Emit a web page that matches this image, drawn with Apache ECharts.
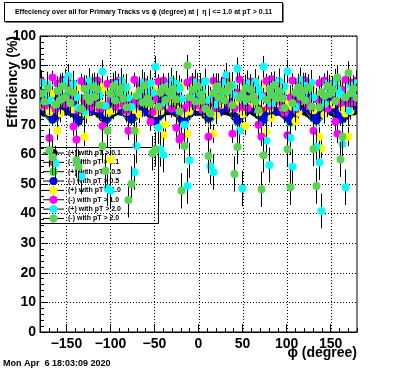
<!DOCTYPE html>
<html><head><meta charset="utf-8">
<script src="https://cdn.jsdelivr.net/npm/echarts@6/dist/echarts.min.js"></script>
<style>html,body{margin:0;padding:0;background:#fff;}#c{width:396px;height:372px;}</style>
</head><body><div id="c"></div>
<script>
// ---------- data ----------
const chartTitle = "Effeciency over all for Primary Tracks vs \u03d5 (degree) at |  \u03b7 | <= 1.0 at pT > 0.11";
const xTitle = "\u03d5 (degree)";
const yTitle = "Efficiency (%)";
const dateText = "Mon Apr  6 18:03:09 2020";
const phiMin = -180, phiMax = 180, binWidth = 3;
const xMajorTicks = [-150, -100, -50, 0, 50, 100, 150];
const seriesNames = ["(+) with pT > 0.1", "(-) with pT > 0.1", "(+) with pT > 0.5", "(-) with pT > 0.5",
                     "(+) with pT > 1.0", "(-) with pT > 1.0", "(+) with pT > 2.0", "(-) with pT > 2.0"];
const seriesColors = ["#000000", "#ff0000", "#00ff00", "#0000ff", "#ffff00", "#ff00ff", "#00ffff", "#59d454"];
// tracks per bin used for binomial error bars
const tracksPerBin = [4000, 4000, 700, 700, 220, 220, 70, 70];

const effPos01 = [
74.6,74.1,73.8,73.0,71.9,72.4,73.5,74.3,74.8,74.5,
74.9,74.4,73.9,72.8,71.6,72.9,73.8,74.6,74.2,75.0,
74.7,74.3,73.6,72.5,71.8,72.2,73.4,74.1,74.9,74.6,
74.4,74.8,73.7,72.6,72.0,72.7,73.9,74.5,75.1,74.7,
74.3,73.5,72.4,71.9,72.6,73.3,74.2,74.9,74.6,75.0,
74.5,74.0,73.1,72.2,71.7,72.8,73.9,74.7,75.0,74.4,
74.8,74.2,73.3,72.1,72.5,73.6,74.4,75.1,74.7,74.9,
74.6,74.3,73.8,72.9,71.8,72.3,73.5,74.2,74.8,75.0,
74.5,74.1,73.2,72.4,71.9,72.6,73.7,74.6,74.9,74.3,
74.7,74.0,73.4,72.3,71.6,72.9,74.0,74.8,75.2,74.6,
74.4,73.8,73.0,72.2,71.8,72.7,73.8,74.5,75.0,74.7,
74.2,73.6,72.8,72.0,71.9,73.0,74.1,74.8,74.5,74.9];
const effNeg01 = [
76.8,76.4,75.9,75.1,74.3,74.7,75.8,76.6,77.0,76.7,
77.1,76.5,76.0,74.9,74.1,75.2,76.2,76.8,76.4,77.2,
76.9,76.6,75.7,74.8,74.2,74.6,75.8,76.5,77.1,76.8,
76.6,77.0,75.9,75.0,74.4,74.9,76.1,76.7,77.3,76.9,
76.5,75.8,74.8,74.3,74.9,75.7,76.4,77.1,76.8,77.2,
76.7,76.2,75.4,74.5,74.1,75.1,76.2,76.9,77.2,76.6,
77.0,76.4,75.5,74.4,74.8,75.9,76.6,77.3,76.9,77.1,
76.8,76.5,76.0,75.2,74.2,74.6,75.8,76.5,77.0,77.2,
76.7,76.3,75.5,74.7,74.3,74.9,76.0,76.8,77.1,76.5,
76.9,76.2,75.6,74.6,74.0,75.2,76.3,77.0,77.4,76.8,
76.6,76.0,75.3,74.5,74.2,75.0,76.1,76.7,77.2,76.9,
76.4,75.8,75.1,74.3,74.3,75.3,76.3,77.0,76.7,77.1];
const effPos05 = [
76.8,75.4,74.9,73.2,71.5,72.6,74.8,76.5,77.2,76.1,
77.4,76.2,75.0,72.8,70.9,73.4,75.6,76.9,75.8,77.6,
76.4,77.1,74.6,72.9,71.2,71.8,74.5,76.3,77.5,76.0,
75.7,77.0,75.2,73.1,71.6,72.9,75.1,76.7,77.8,76.4,
76.9,74.8,72.6,70.8,72.4,74.6,76.2,77.3,76.5,77.9,
76.1,75.5,73.7,71.4,70.6,73.0,75.4,76.8,77.6,75.9,
77.2,76.0,74.1,71.9,72.3,74.9,76.5,77.4,76.2,77.0,
76.6,75.8,75.0,73.3,71.0,72.5,74.7,76.4,77.5,76.9,
75.9,76.7,74.4,72.2,71.3,72.7,75.3,76.9,77.1,76.0,
77.3,75.6,74.3,72.0,70.7,73.5,75.8,77.0,77.9,76.3,
76.5,75.2,73.9,72.1,71.1,72.8,75.0,76.6,77.4,76.8,
75.8,74.9,73.0,71.5,71.7,74.0,75.9,77.2,76.4,77.1];
const effNeg05 = [
78.9,75.1,77.6,73.6,71.9,72.8,79.2,74.6,78.5,76.0,
79.6,74.3,77.0,73.0,71.2,73.7,78.8,75.2,79.9,74.7,
77.9,79.4,74.5,73.2,71.6,72.3,77.6,74.9,80.1,75.5,
78.1,74.6,79.3,73.5,71.9,73.3,78.4,75.0,79.7,74.4,
79.0,75.2,73.0,71.1,72.9,78.1,74.8,80.0,75.9,78.7,
74.9,79.5,74.1,71.8,71.0,73.5,78.9,74.3,79.8,76.2,
78.6,74.7,74.6,72.3,72.8,77.9,75.1,79.6,74.5,78.8,
75.6,79.2,75.5,73.7,71.4,72.9,78.3,74.7,80.2,75.8,
79.1,74.8,74.9,72.6,71.7,73.1,79.0,75.4,78.2,74.6,
78.5,75.0,74.8,72.4,71.1,73.9,78.6,74.5,80.3,76.1,
75.3,79.4,74.3,72.5,71.5,73.2,78.0,75.6,79.5,74.9,
78.7,75.4,73.5,71.9,72.1,77.8,74.4,79.3,75.2,78.4];
const effPos10 = [
84.1,76.1,82.9,74.3,80.5,76.9,68.0,73.8,83.6,84.3,
77.4,83.2,75.2,82.6,79.0,74.2,66.0,73.5,84.8,78.9,
84.3,75.6,83.2,77.0,81.9,73.9,58.3,74.8,83.1,76.5,
82.7,84.6,74.4,80.8,77.1,75.0,67.7,73.6,83.9,78.2,
84.0,76.3,83.4,74.0,81.2,74.6,66.5,70.0,76.4,84.7,
78.6,84.4,75.1,83.0,73.7,67.0,74.5,82.3,83.2,76.0,
84.4,77.8,84.7,74.6,80.1,67.0,73.2,83.3,76.8,83.5,
79.2,84.6,75.5,82.1,77.3,75.1,73.6,69.6,76.7,83.9,
77.0,84.8,74.2,82.4,79.6,67.6,75.4,72.3,84.5,77.3,
84.1,75.8,82.9,77.7,80.7,76.0,71.2,74.1,84.6,78.0,
83.2,76.4,82.8,74.9,79.8,66.0,62.0,73.4,84.0,84.3,
76.9,83.8,78.1,83.5,75.3,73.8,66.0,74.7,83.2,84.0];
const effNeg10 = [
84.6,76.4,78.3,65.5,86.0,75.3,83.9,79.1,85.2,77.0,
84.1,79.5,69.4,65.0,74.8,84.8,78.2,83.6,75.9,84.7,
77.6,85.0,75.4,69.6,76.5,83.9,78.7,84.2,76.1,84.9,
84.5,76.8,74.7,68.0,77.8,85.2,76.9,83.7,79.3,84.4,
80.2,71.0,74.3,78.9,84.6,76.2,85.0,77.9,83.8,75.4,
79.4,69.0,65.0,66.0,75.6,84.3,77.4,85.1,76.6,84.0,
84.0,75.1,76.8,66.0,78.2,84.9,75.8,83.5,78.6,85.1,
84.7,77.2,67.0,75.6,80.9,85.3,76.0,83.8,75.7,84.6,
81.3,78.4,70.0,66.0,79.7,84.8,76.3,85.4,77.5,83.6,
80.6,76.1,74.0,66.5,79.2,85.0,75.2,84.4,78.4,85.2,
84.8,76.6,75.9,68.0,78.7,84.1,77.2,85.0,75.5,83.9,
80.3,71.0,67.0,77.4,81.8,85.2,76.7,84.3,77.8,85.0];
const effPos20 = [
84.1,80.3,83.5,78.2,59.0,57.0,77.6,82.8,79.9,84.6,
86.5,81.2,83.9,79.4,75.8,52.5,74.3,82.1,84.8,80.7,
83.2,81.6,79.9,88.0,76.4,48.5,47.7,78.9,83.7,81.0,
84.9,80.5,82.6,79.1,76.0,54.0,62.8,80.2,84.3,82.0,
81.4,84.0,80.8,89.6,69.0,61.7,59.8,77.5,83.1,85.0,
80.6,83.8,82.2,78.7,70.0,49.3,58.0,79.8,84.4,81.5,
83.0,81.1,84.7,78.4,56.0,54.0,76.9,82.9,80.4,84.2,
86.8,81.9,83.4,80.0,89.0,68.0,48.5,78.1,84.0,82.5,
80.9,84.5,82.0,79.6,89.6,64.6,56.4,77.2,83.6,81.3,
84.8,80.7,82.9,88.0,65.5,55.8,75.9,82.4,85.1,80.2,
83.1,81.8,84.2,79.3,62.5,57.3,40.9,77.0,83.9,82.3,
81.0,84.6,82.1,80.4,63.5,48.9,74.8,83.2,80.8,84.0];
const effNeg20 = [
80.6,77.9,82.3,61.5,59.0,76.8,81.4,78.5,83.0,79.2,
81.7,77.4,80.9,58.0,55.8,75.3,82.2,79.6,78.0,82.8,
79.4,81.9,76.7,62.8,54.5,68.0,80.5,83.1,78.2,80.8,
82.4,78.8,75.9,44.6,50.0,68.0,79.7,81.6,77.6,83.3,
79.0,77.2,60.4,61.7,76.1,80.9,82.6,78.4,81.2,79.8,
82.1,78.6,74.5,47.7,62.8,90.0,79.3,81.8,77.9,83.0,
80.2,78.1,75.4,59.5,73.8,80.7,82.9,79.1,81.5,78.3,
81.1,83.2,76.6,53.4,62.5,79.0,80.3,82.4,78.7,81.9,
79.6,77.8,74.9,48.2,59.7,78.5,82.0,80.1,83.4,79.0,
81.3,78.9,75.7,61.7,48.9,77.4,80.8,82.7,79.5,81.6,
78.3,82.5,76.2,61.8,49.3,75.9,81.0,79.7,83.1,80.4,
81.8,78.0,86.0,58.3,66.0,79.2,87.5,80.6,82.2,79.1];
const allEff = [effPos01, effNeg01, effPos05, effNeg05, effPos10, effNeg10, effPos20, effNeg20];

// ---------- chart ----------
const FONT = "'Liberation Sans', Arial, Helvetica, sans-serif";
const chart = echarts.init(document.getElementById('c'), null, {renderer: 'canvas'});

function binCenter(i) { return phiMin + binWidth * (i + 0.5); }
function binomErr(v, n) { const p = v / 100; return 100 * Math.sqrt(p * (1 - p) / n); }

const series = [];
// vertical dotted grid lines at major x ticks
series.push({
  type: 'custom', z: 1, silent: true, clip: true, animation: false,
  data: xMajorTicks.map(v => [v, 0]),
  renderItem: function (params, api) {
    const a = api.coord([api.value(0), 0]);
    const b = api.coord([api.value(0), 100]);
    const x = Math.round(a[0]) + 0.5;
    return {type: 'line', shape: {x1: x, y1: a[1], x2: x, y2: b[1]},
            style: {stroke: '#000', lineWidth: 1, lineDash: [1, 2]}};
  }
});

allEff.forEach(function (vals, s) {
  const pts = vals.map((v, i) => [binCenter(i), v, binomErr(v, tracksPerBin[s])]);
  series.push({
    type: 'custom', name: seriesNames[s] + ' err', z: 5, silent: true, clip: true, animation: false,
    data: pts,
    renderItem: function (params, api) {
      const x = api.value(0), v = api.value(1), e = api.value(2);
      const top = api.coord([x, v + e]);
      const bot = api.coord([x, v - e]);
      const px = Math.round(top[0]) + 0.5;
      return {type: 'line', shape: {x1: px, y1: top[1], x2: px, y2: bot[1]},
              style: {stroke: '#000', lineWidth: 1}};
    }
  });
  series.push({
    type: 'custom', name: seriesNames[s], z: 5, silent: true, clip: true, animation: false,
    data: pts,
    renderItem: function (params, api) {
      const p = api.coord([api.value(0), api.value(1)]);
      return {type: 'circle', shape: {cx: Math.round(p[0]) + 0.5, cy: p[1], r: 4},
              style: {fill: seriesColors[s], stroke: null}};
    }
  });
});

// legend (drawn manually, behind the data like the original)
const legX = 40, legY = 147, legW = 118, legH = 76;
const legendChildren = [{type: 'rect', shape: {x: legX + 0.5, y: legY + 0.5, width: legW, height: legH},
  style: {fill: '#fff', stroke: '#000', lineWidth: 1}}];
seriesNames.forEach(function (name, s) {
  const y = legY + 6 + s * 9.35;
  legendChildren.push({type: 'line', shape: {x1: 43, y1: y, x2: 64, y2: y}, style: {stroke: '#000', lineWidth: 1}});
  legendChildren.push({type: 'line', shape: {x1: 53.5, y1: y - 4, x2: 53.5, y2: y + 4}, style: {stroke: '#000', lineWidth: 1}});
  legendChildren.push({type: 'circle', shape: {cx: 53.5, cy: y, r: 4}, style: {fill: seriesColors[s]}});
  legendChildren.push({type: 'text', x: 68, y: y, style: {text: name, fill: '#000',
    font: 'bold 7px ' + FONT, textAlign: 'left', textVerticalAlign: 'middle'}});
});

chart.setOption({
  animation: false,
  backgroundColor: '#fff',
  grid: {left: 40, right: 39, top: 36, bottom: 40, show: true, borderColor: '#000', borderWidth: 1,
         backgroundColor: '#fff', containLabel: false, outerBoundsMode: 'none'},
  xAxis: [{
    type: 'value', min: phiMin, max: phiMax, interval: 10, position: 'bottom',
    axisLine: {show: true, onZero: false, lineStyle: {color: '#000', width: 1}},
    axisTick: {show: true, inside: true, length: 4, lineStyle: {color: '#000'}},
    axisLabel: {show: false}, splitLine: {show: false}
  }, {
    type: 'value', min: phiMin, max: phiMax, position: 'bottom',
    axisLine: {show: false, onZero: false},
    axisTick: {show: true, inside: true, length: 8, customValues: xMajorTicks, lineStyle: {color: '#000'}},
    axisLabel: {show: true, customValues: xMajorTicks, margin: 5, color: '#000', fontSize: 14, fontWeight: 'bold',
                fontFamily: FONT, formatter: v => String(v).replace('-', '\u2212')},
    splitLine: {show: false}
  }],
  yAxis: {
    type: 'value', min: 0, max: 100, interval: 10,
    axisLine: {show: true, onZero: false, lineStyle: {color: '#000', width: 1}},
    axisTick: {show: true, inside: true, length: 8, lineStyle: {color: '#000'}},
    minorTick: {show: true, splitNumber: 5, length: 4, lineStyle: {color: '#000'}},
    axisLabel: {margin: 4, color: '#000', fontSize: 14, fontWeight: 'bold', fontFamily: FONT},
    splitLine: {show: true, lineStyle: {color: '#000', width: 1, type: [1, 2]}}
  },
  series: series,
  graphic: [
    {type: 'group', z: 3, children: legendChildren},
    {type: 'rect', z: 10, shape: {x: 5.5, y: 3.5, width: 278, height: 19}, style: {fill: '#000'}},
    {type: 'rect', z: 10, shape: {x: 4.5, y: 2.5, width: 278, height: 19}, style: {fill: '#fff', stroke: '#000', lineWidth: 1}},
    {type: 'text', z: 11, x: 143.5, y: 12, style: {text: chartTitle, fill: '#000', font: 'bold 7px ' + FONT,
      textAlign: 'center', textVerticalAlign: 'middle'}},
    {type: 'text', z: 11, x: 357, y: 353, style: {text: xTitle, fill: '#000', font: 'bold 14px ' + FONT,
      textAlign: 'right', textVerticalAlign: 'middle'}},
    {type: 'text', z: 11, x: 13, y: 36, rotation: Math.PI / 2, style: {text: yTitle, fill: '#000',
      font: 'bold 14px ' + FONT, textAlign: 'right', textVerticalAlign: 'middle'}},
    {type: 'text', z: 11, x: 3, y: 364, style: {text: dateText, fill: '#000', font: 'bold 9px ' + FONT,
      textAlign: 'left', textVerticalAlign: 'middle'}}
  ]
});
</script></body></html>
